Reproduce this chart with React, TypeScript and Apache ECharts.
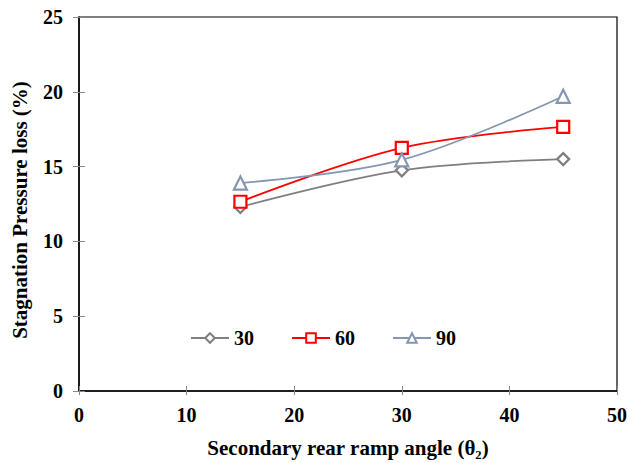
import React, { useEffect, useRef } from "react";
import * as echarts from "echarts";

const xValues = [15, 30, 45];
const seriesNames = ["30", "60", "90"];
const s30 = [12.3, 14.75, 15.5];
const s60 = [12.65, 16.25, 17.65];
const s90 = [13.9, 15.45, 19.7];

const FONT = "'Liberation Serif', 'Times New Roman', serif";

export default function App() {
  const ref = useRef<HTMLDivElement>(null);
  useEffect(() => {
    const chart = echarts.init(ref.current!, null, { renderer: "svg" });
    const mk = (name: string, vals: number[], color: string, symbol: string, size: number) => ({
      name,
      type: "line",
      data: xValues.map((x, i) => [x, vals[i]]),
      smooth: 0.35,
      symbol,
      symbolSize: size,
      showAllSymbol: true,
      lineStyle: { color, width: 1.8 },
      itemStyle: { color: "#ffffff", borderColor: color, borderWidth: 2.2 },
    });
    const tickStyle = { color: "#888", width: 1 };
    chart.setOption({
      animation: false,
      backgroundColor: "#ffffff",
      grid: { left: 79, right: 21, top: 17, bottom: 72, show: true, borderColor: "#000", borderWidth: 1.2, backgroundColor: "transparent" },
      legend: {
        left: 185,
        top: 323,
        itemGap: 37,
        itemWidth: 38,
        itemHeight: 12,
        data: seriesNames,
        textStyle: { fontFamily: FONT, fontWeight: "bold", fontSize: 20, color: "#000" },
      },
      xAxis: [
        {
          type: "value",
          min: 0,
          max: 50,
          interval: 10,
          name: "Secondary rear ramp angle (θ₂)",
          nameLocation: "middle",
          nameGap: 46,
          nameTextStyle: { fontFamily: FONT, fontWeight: "bold", fontSize: 21, color: "#000" },
          axisLine: { lineStyle: { color: "#000", width: 1.5 } },
          axisTick: { show: true, inside: false, length: 4, lineStyle: tickStyle },
          splitLine: { show: false },
          axisLabel: { fontFamily: FONT, fontWeight: "bold", fontSize: 20, color: "#000", margin: 14 },
        },
        {
          type: "value",
          min: 0,
          max: 50,
          interval: 10,
          position: "bottom",
          axisLine: { show: false },
          axisTick: { show: true, inside: true, length: 5, lineStyle: tickStyle },
          splitLine: { show: false },
          axisLabel: { show: false },
        },
      ],
      yAxis: [
        {
          type: "value",
          min: 0,
          max: 25,
          interval: 5,
          name: "Stagnation Pressure loss (%)",
          nameLocation: "middle",
          nameGap: 49,
          nameTextStyle: { fontFamily: FONT, fontWeight: "bold", fontSize: 21, color: "#000", padding: [0, 12, 0, 0] },
          axisLine: { show: true, lineStyle: { color: "#000", width: 1.5 } },
          axisTick: { show: true, length: 6, lineStyle: tickStyle },
          splitLine: { show: false },
          axisLabel: { fontFamily: FONT, fontWeight: "bold", fontSize: 20, color: "#000", margin: 16 },
        },
        {
          type: "value",
          min: 0,
          max: 25,
          interval: 5,
          position: "left",
          axisLine: { show: false },
          axisTick: { show: true, inside: true, length: 6, lineStyle: tickStyle },
          splitLine: { show: false },
          axisLabel: { show: false },
        },
      ],
      series: [
        mk(seriesNames[0], s30, "#7f7f7f", "diamond", 12),
        mk(seriesNames[1], s60, "#ff0000", "rect", 12),
        mk(seriesNames[2], s90, "#8496b0", "triangle", 13),
      ],
    });
    return () => chart.dispose();
  }, []);
  return <div ref={ref} style={{ position: "fixed", left: 0, top: 0, width: 638, height: 463 }} />;
}
